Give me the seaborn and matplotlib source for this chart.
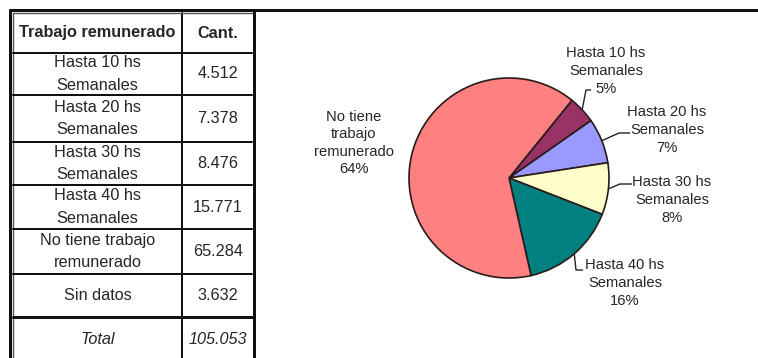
import matplotlib
matplotlib.use("Agg")
import matplotlib.pyplot as plt
import seaborn as sns
import numpy as np

# ---- data ----
table_header = ["Trabajo remunerado", "Cant."]
table_labels = ["Hasta 10 hs\nSemanales", "Hasta 20 hs\nSemanales", "Hasta 30 hs\nSemanales",
                "Hasta 40 hs\nSemanales", "No tiene trabajo\nremunerado", "Sin datos"]
table_values = ["4.512", "7.378", "8.476", "15.771", "65.284", "3.632"]
total_label = "Total"
total_value = "105.053"

pie_categories = ["Hasta 10 hs\nSemanales", "Hasta 20 hs\nSemanales", "Hasta 30 hs\nSemanales",
                  "Hasta 40 hs\nSemanales", "No tiene\ntrabajo\nremunerado"]
pie_values = [4512, 7378, 8476, 15771, 65284]
pie_pct_labels = ["5%", "7%", "8%", "16%", "64%"]
pie_colors = ["#993366", "#9999FF", "#FFFFCC", "#008080", "#FF8080"]

sns.set_theme(style="white")
plt.rcParams['font.family'] = ['Liberation Sans', 'DejaVu Sans']

W, H = 758, 358
fig = plt.figure(figsize=(W / 100, H / 100), dpi=100)
fig.patch.set_facecolor("white")
ax = fig.add_axes([0, 0, 1, 1])

def Y(y):
    return H - y

PX = 0.72  # points per pixel
txtc = "#262626"

# ---- pie ----
cx, cy, r = 509, 178, 100
wedges, _ = ax.pie(pie_values, colors=pie_colors, startangle=51, counterclock=False,
                   center=(cx, Y(cy)), radius=r,
                   wedgeprops=dict(edgecolor="#2a1a1a", linewidth=1.2))
ax.set_xlim(0, W)
ax.set_ylim(0, H)
ax.set_aspect("auto")
ax.axis("off")

def edge_pt(w):
    a = np.deg2rad((w.theta1 + w.theta2) / 2)
    return cx + r * np.cos(a), cy - r * np.sin(a)

# label text centers and leader elbows (image coords)
label_pos = [(606, 71), (667, 130), (672, 200), (625, 283), (354, 143)]
elbows = [[(586, 90), (591, 90)], [(619, 133), (630, 133)], [(620, 184), (632, 184)],
          [(576, 270), (583, 270)], None]

for i, (w, cat, pct) in enumerate(zip(wedges, pie_categories, pie_pct_labels)):
    tx, ty = label_pos[i]
    ax.text(tx, Y(ty), cat + "\n" + pct, ha="center", va="center", fontsize=10.6,
            color=txtc, linespacing=1.32)
    if elbows[i] is not None:
        ex, ey = edge_pt(w)
        pts = [(ex, ey)] + elbows[i]
        ax.plot([p[0] for p in pts], [Y(p[1]) for p in pts], color="#222", lw=1.0, solid_capstyle="butt")

# ---- table ----
lw_thick = 3 * PX
lw_thin = 2 * PX
lc = "#111111"
x0, x1, x2 = 10, 182, 252
row_edges = [13, 53, 95, 142, 185, 229, 274, 317, H + 5]

# outer frame
ax.plot([8.5, W], [Y(9.5), Y(9.5)], color=lc, lw=lw_thick, solid_capstyle="butt")
ax.plot([9.5, 9.5], [Y(8.5), Y(H + 2)], color=lc, lw=lw_thick, solid_capstyle="butt")
ax.plot([253.5, 253.5], [Y(9), Y(H + 2)], color=lc, lw=lw_thick, solid_capstyle="butt")
# inner grid
ax.plot([12.5, 12.5], [Y(13), Y(H + 2)], color="#555", lw=lw_thin * 0.7)
ax.plot([x1, x1], [Y(13), Y(H + 2)], color=lc, lw=lw_thin)
for k, ye in enumerate(row_edges[:-1]):
    lw = lw_thick if ye == 317 else lw_thin
    col = "#555" if ye == 13 else lc
    ax.plot([12.5, 252], [Y(ye), Y(ye)], color=col, lw=lw if ye != 13 else lw_thin * 0.7)

mid1 = (13 + x1) / 2
mid2 = (x1 + x2) / 2 + 1
hy = (row_edges[0] + row_edges[1]) / 2
ax.text(mid1, Y(hy), table_header[0], ha="center", va="center", fontsize=11.7,
        fontweight="bold", color=txtc)
ax.text(mid2, Y(hy), table_header[1], ha="center", va="center", fontsize=11.7,
        fontweight="bold", color=txtc)
for i, (lab, val) in enumerate(zip(table_labels, table_values)):
    yc = (row_edges[i + 1] + row_edges[i + 2]) / 2
    ax.text(mid1, Y(yc), lab, ha="center", va="center", fontsize=11.7, color=txtc,
            linespacing=1.6)
    ax.text(mid2, Y(yc), val, ha="center", va="center", fontsize=11.7, color=txtc)
ax.text(mid1, Y(340), total_label, ha="center", va="center", fontsize=11.7,
        style="italic", color=txtc)
ax.text(mid2, Y(340), total_value, ha="center", va="center", fontsize=11.7,
        style="italic", color=txtc)

fig.savefig("out.png", dpi=100, facecolor="white")
